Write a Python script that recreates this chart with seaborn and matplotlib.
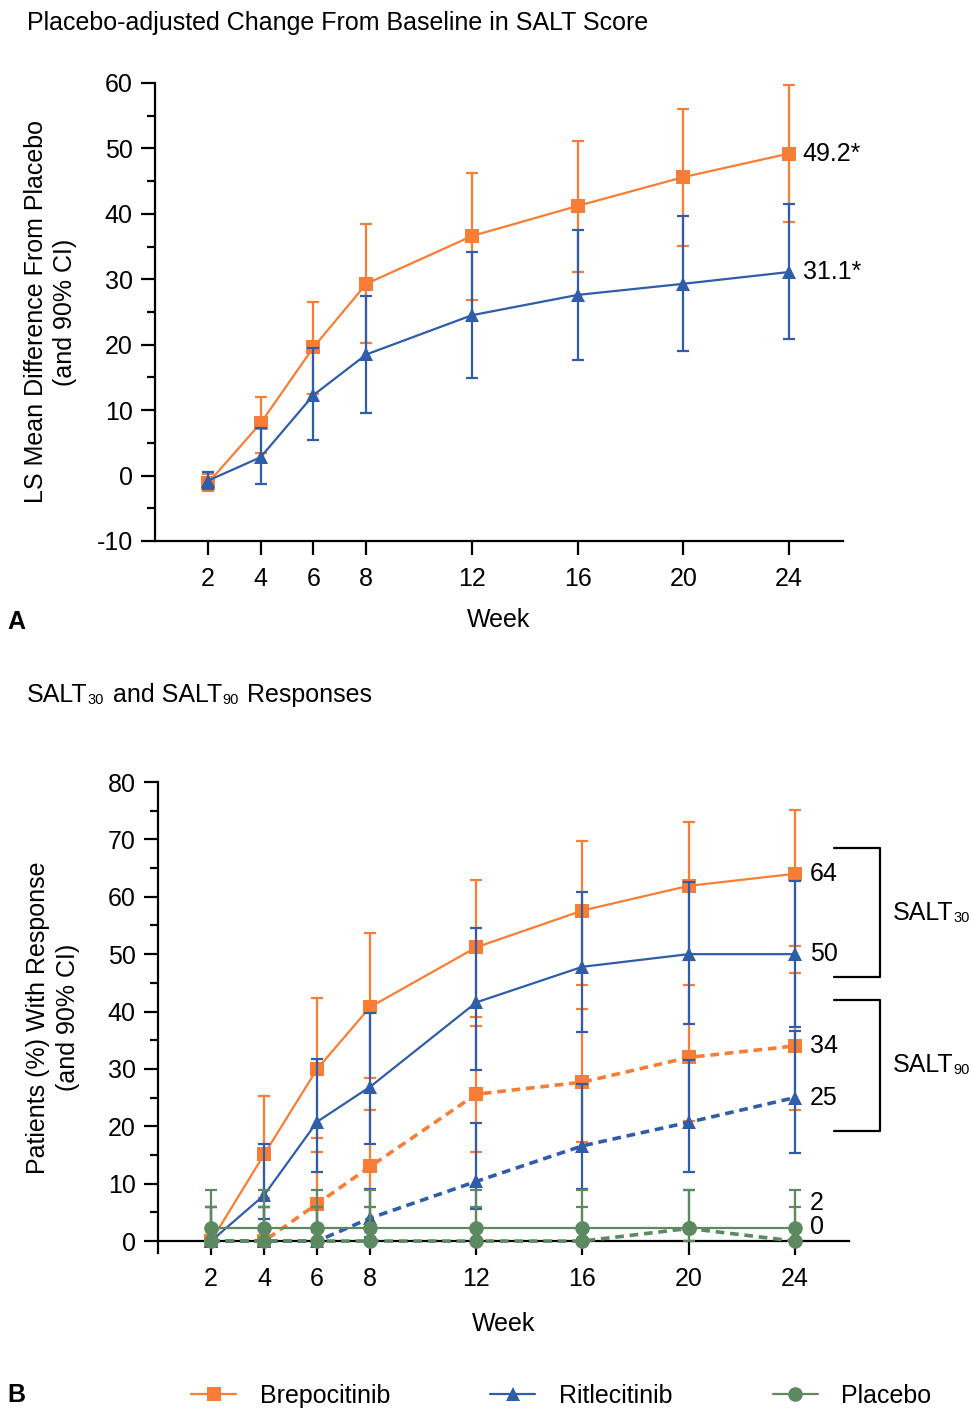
import matplotlib
matplotlib.use("Agg")
import matplotlib.pyplot as plt
from matplotlib.lines import Line2D
from matplotlib.ticker import MultipleLocator
import pandas as pd
import seaborn as sns

sns.set_theme(style="ticks")
plt.rcParams["font.family"] = ["Liberation Sans", "DejaVu Sans"]
plt.rcParams["axes.unicode_minus"] = False
for key in ["text.color", "axes.labelcolor", "xtick.color", "ytick.color"]:
    plt.rcParams[key] = "black"

ORANGE = "#FA7D35"
BLUE = "#2F5DAA"
GREEN = "#5D8961"
FS = 18
SUB_FS = 10.5

weeks = [2, 4, 6, 8, 12, 16, 20, 24]

# panel A: LS mean difference from placebo
brepo_ls = [-1.2, 8.0, 19.6, 29.3, 36.6, 41.2, 45.6, 49.2]
brepo_ls_lo = [-2.3, 3.5, 12.4, 20.3, 26.9, 31.1, 35.1, 38.7]
brepo_ls_hi = [0.2, 12.0, 26.5, 38.4, 46.2, 51.2, 56.0, 59.7]
ritle_ls = [-0.8, 2.8, 12.3, 18.5, 24.5, 27.6, 29.3, 31.1]
ritle_ls_lo = [-2.0, -1.3, 5.4, 9.6, 14.9, 17.7, 19.1, 20.8]
ritle_ls_hi = [0.6, 7.2, 19.5, 27.4, 34.1, 37.5, 39.6, 41.5]

# panel B: SALT30 / SALT90 responses (%)
brepo30 = [0, 15.1, 30.0, 40.8, 51.2, 57.6, 61.9, 64.0]
brepo30_lo = [0, 7.5, 18.0, 28.4, 39.1, 44.6, 49.0, 51.4]
brepo30_hi = [5.9, 25.3, 42.4, 53.6, 62.9, 69.8, 73.0, 75.1]
ritle30 = [0, 8.0, 20.8, 26.9, 41.6, 47.8, 50.0, 50.0]
ritle30_lo = [0, 3.8, 12.0, 17.0, 29.8, 36.4, 37.8, 37.3]
ritle30_hi = [5.9, 17.0, 31.7, 39.7, 54.6, 60.8, 62.6, 62.7]
brepo90 = [0, 0, 6.5, 13.0, 25.6, 27.7, 32.0, 34.0]
brepo90_lo = [0, 0, 1.5, 5.9, 15.6, 17.3, 21.0, 22.8]
brepo90_hi = [0, 5.9, 15.6, 22.8, 37.5, 40.4, 44.6, 46.7]
ritle90 = [0, 0, 0, 4.0, 10.4, 16.6, 20.7, 25.0]
ritle90_lo = [0, 0, 0, 0.7, 5.6, 9.0, 12.1, 15.3]
ritle90_hi = [0, 5.9, 5.9, 9.0, 20.6, 27.3, 31.5, 36.6]
placebo30 = [2.2, 2.2, 2.2, 2.2, 2.2, 2.2, 2.2, 2.2]
placebo30_lo = [0.1, 0.1, 0.1, 0.1, 0.1, 0.1, 0.1, 0.1]
placebo30_hi = [8.9, 8.9, 8.9, 8.9, 8.9, 8.9, 8.9, 8.9]
placebo90 = [0, 0, 0, 0, 0, 0, 2.2, 0]
placebo90_lo = [0, 0, 0, 0, 0, 0, 0.1, 0]
placebo90_hi = [5.9, 5.9, 5.9, 5.9, 5.9, 5.9, 8.9, 5.9]

top_labels = ["49.2*", "31.1*"]
bottom_labels = ["64", "50", "34", "25", "2", "0"]
legend_labels = ["Brepocitinib", "Ritlecitinib", "Placebo"]


def draw_series(ax, vals, lo, hi, color, marker, ms, dashed=False, z=3):
    df = pd.DataFrame({"week": weeks, "value": vals})
    yerr = [[v - l for v, l in zip(vals, lo)], [h - v for v, h in zip(vals, hi)]]
    ax.errorbar(weeks, vals, yerr=yerr, fmt="none", ecolor=color, elinewidth=1.6,
                capsize=4.5, capthick=1.6, zorder=z, clip_on=False)
    sns.lineplot(data=df, x="week", y="value", ax=ax, color=color, marker=marker,
                 markersize=ms, markeredgewidth=0, linewidth=2.6 if dashed else 1.6,
                 linestyle=(0, (2.4, 1.6)) if dashed else "-", zorder=z + 0.5,
                 clip_on=False, legend=False)


def style_axis(ax, ymin, ymax, ylabel, xlabelpad):
    sns.despine(ax=ax)
    for side in ["left", "bottom"]:
        ax.spines[side].set_linewidth(1.6)
        ax.spines[side].set_color("black")
    ax.set_xlim(0, 26.05)
    ax.set_ylim(ymin, ymax)
    ax.set_xticks(weeks)
    ax.yaxis.set_major_locator(MultipleLocator(10))
    ax.yaxis.set_minor_locator(MultipleLocator(5))
    ax.tick_params(axis="both", which="major", direction="out", length=10, width=1.6,
                   labelsize=FS, color="black", pad=6)
    ax.tick_params(axis="x", which="major", pad=9)
    ax.tick_params(axis="y", which="minor", direction="out", length=6, width=1.6,
                   color="black")
    ax.set_xlabel("Week", fontsize=FS, labelpad=xlabelpad)
    ax.set_ylabel(ylabel, fontsize=FS, linespacing=1.3)
    ax.yaxis.set_label_coords(-0.113, 0.5)
    ax.grid(False)


def add_sub(ax, anchor, sub):
    # small subscript glued to the right of a text artist
    return ax.annotate(sub, xy=(1.0, 0.0), xycoords=anchor, fontsize=SUB_FS,
                       va="bottom", ha="left", annotation_clip=False)


def add_after(ax, anchor, text, gap=0):
    return ax.annotate(text, xy=(1.0, 0.5), xycoords=anchor, xytext=(gap, 0),
                       textcoords="offset points", fontsize=FS, va="center",
                       ha="left", annotation_clip=False)


fig = plt.figure(figsize=(9.73, 14.08), dpi=100)

# ---- panel A
ax1 = fig.add_axes([0.1593, 0.6158, 0.7071, 0.3253])
draw_series(ax1, brepo_ls, brepo_ls_lo, brepo_ls_hi, ORANGE, "s", 9.8, z=3)
draw_series(ax1, ritle_ls, ritle_ls_lo, ritle_ls_hi, BLUE, "^", 10.5, z=4)
style_axis(ax1, -10, 60, "LS Mean Difference From Placebo\n(and 90% CI)", 12)
ax1.annotate(top_labels[0], xy=(weeks[-1], brepo_ls[-1]), xytext=(10, 0),
             textcoords="offset points", va="center", fontsize=FS)
ax1.annotate(top_labels[1], xy=(weeks[-1], ritle_ls[-1]), xytext=(10, 0),
             textcoords="offset points", va="center", fontsize=FS)

# ---- panel B
ax2 = fig.add_axes([0.1624, 0.1104, 0.7102, 0.3342])
draw_series(ax2, brepo30, brepo30_lo, brepo30_hi, ORANGE, "s", 9.8, z=3)
draw_series(ax2, brepo90, brepo90_lo, brepo90_hi, ORANGE, "s", 9.8, dashed=True, z=3)
draw_series(ax2, ritle30, ritle30_lo, ritle30_hi, BLUE, "^", 10.5, z=4)
draw_series(ax2, ritle90, ritle90_lo, ritle90_hi, BLUE, "^", 10.5, dashed=True, z=4)
draw_series(ax2, placebo30, placebo30_lo, placebo30_hi, GREEN, "o", 10.5, z=5)
draw_series(ax2, placebo90, placebo90_lo, placebo90_hi, GREEN, "o", 10.5, dashed=True, z=5)
style_axis(ax2, -2, 80, "Patients (%) With Response\n(and 90% CI)", 15)
ax2.spines["bottom"].set_position(("data", 0))
ax2.spines["left"].set_bounds(-2, 80)

end_vals = [brepo30[-1], ritle30[-1], brepo90[-1], ritle90[-1], placebo30[-1], placebo90[-1]]
end_offsets = [0, 0, 0, 0, 18, 10]
for lab, v, off in zip(bottom_labels, end_vals, end_offsets):
    ax2.annotate(lab, xy=(weeks[-1], v), xytext=(11, off), textcoords="offset points",
                 va="center", fontsize=FS)

# brackets grouping SALT30 / SALT90
for y0, y1, sub in [(46.0, 68.5, "30"), (19.2, 42.0, "90")]:
    ax2.plot([25.48, 27.22, 27.22, 25.48], [y1, y1, y0, y0], color="black", lw=1.6,
             clip_on=False)
    t = ax2.text(27.7, (y0 + y1) / 2, "SALT", fontsize=FS, va="center", ha="left")
    add_sub(ax2, t, sub)

# titles and panel letters
fig.text(0.028, 0.984, "Placebo-adjusted Change From Baseline in SALT Score",
         fontsize=FS, va="center")
t1 = fig.text(0.028, 0.5065, "SALT", fontsize=FS, va="center")
s1 = add_sub(ax2, t1, "30")
t2 = add_after(ax2, t1, " and SALT", gap=13)
s2 = add_sub(ax2, t2, "90")
add_after(ax2, t2, " Responses", gap=13)
fig.text(0.008, 0.558, "A", fontsize=FS, fontweight="bold", va="center")
fig.text(0.008, 0.0095, "B", fontsize=FS, fontweight="bold", va="center")

handles = [
    Line2D([], [], color=ORANGE, marker="s", markersize=9.8, markeredgewidth=0, lw=1.6),
    Line2D([], [], color=BLUE, marker="^", markersize=10.5, markeredgewidth=0, lw=1.6),
    Line2D([], [], color=GREEN, marker="o", markersize=10.5, markeredgewidth=0, lw=1.6),
]
fig.legend(handles, legend_labels, loc="center", bbox_to_anchor=(0.577, 0.0085),
           ncol=3, frameon=False, fontsize=FS, handlelength=1.8, handletextpad=0.95,
           columnspacing=4.0)

fig.savefig("out.png", dpi=100)
